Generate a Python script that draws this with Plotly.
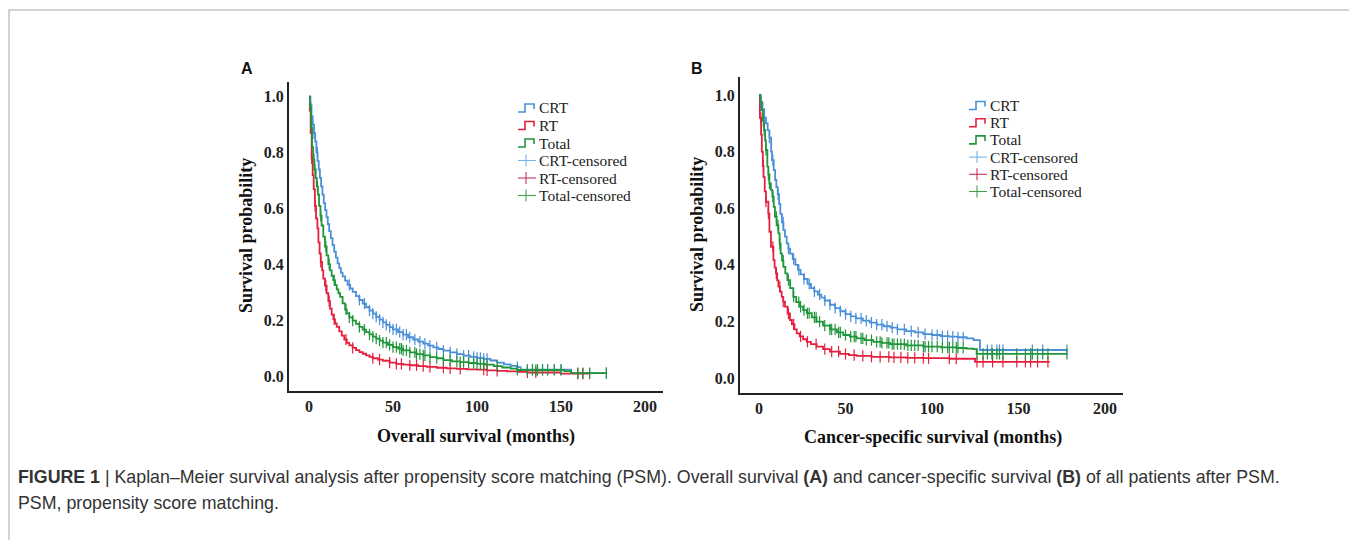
import numpy as np
import plotly.graph_objects as go

W, H = 1357, 540
OFF = 8  # the page body adds an 8px margin; positions below are in window pixels

# ---------------- Panel A: overall survival ----------------
os_crt_t = [0, 0.8, 1.5, 2.2, 3.0, 3.7, 4.4, 5.1, 5.8, 6.5, 7.2, 8.0, 8.8, 9.6, 10.4, 11.2, 12.0, 13.0, 14.0, 15.0,
            16.0, 17.0, 18.0, 19.0, 20.0, 21.5, 23.0, 24.5, 26.0, 28.0, 30.0, 32.0, 34.0, 36.0, 38.0, 40.0, 42.0,
            44.0, 46.0, 48.0, 50.0, 53.0, 56.0, 59.0, 62.0, 65.0, 68.0, 71.0, 74.0, 77.0, 80.0, 84.0, 88.0, 92.0,
            96.0, 100.0, 104.0, 108.0, 112.0, 116.0, 120.0, 124.0, 126.0, 156.0, 177.0]
os_crt_s = [1.0, 0.97, 0.93, 0.90, 0.87, 0.84, 0.80, 0.77, 0.74, 0.71, 0.68, 0.65, 0.62, 0.595, 0.57, 0.545, 0.52,
            0.495, 0.47, 0.447, 0.425, 0.405, 0.388, 0.372, 0.358, 0.343, 0.328, 0.315, 0.303, 0.288, 0.274, 0.261,
            0.248, 0.236, 0.225, 0.214, 0.204, 0.194, 0.185, 0.177, 0.169, 0.159, 0.150, 0.141, 0.133, 0.125, 0.118,
            0.111, 0.105, 0.099, 0.093, 0.087, 0.081, 0.075, 0.071, 0.067, 0.064, 0.058, 0.050, 0.044, 0.039, 0.034,
            0.025, 0.013, 0.013]

os_rt_t = [0, 0.5, 1.0, 1.6, 2.2, 2.8, 3.5, 4.2, 5.0, 5.6, 6.3, 7.0, 7.8, 8.5, 9.5, 10.5, 11.5, 12.5, 13.5, 14.5,
           15.5, 16.5, 18.0, 19.5, 21.0, 22.5, 24.0, 26.0, 28.0, 30.0, 32.0, 34.0, 36.0, 38.0, 41.0, 44.0, 48.0,
           52.0, 56.0, 60.0, 65.0, 70.0, 76.0, 82.0, 88.0, 94.0, 100.0, 106.0, 112.0, 118.0, 124.0, 130.0, 150.0,
           167.0]
os_rt_s = [1.0, 0.95, 0.87, 0.78, 0.72, 0.67, 0.61, 0.565, 0.53, 0.48, 0.44, 0.41, 0.38, 0.35, 0.325, 0.298, 0.27,
           0.243, 0.222, 0.205, 0.19, 0.178, 0.162, 0.147, 0.133, 0.121, 0.112, 0.103, 0.095, 0.088, 0.082, 0.076,
           0.071, 0.066, 0.061, 0.057, 0.050, 0.046, 0.043, 0.041, 0.038, 0.035, 0.032, 0.030, 0.028, 0.026, 0.025,
           0.023, 0.021, 0.019, 0.017, 0.015, 0.011, 0.011]

os_tot_t = [0, 0.6, 1.2, 1.8, 2.5, 3.2, 4.0, 4.6, 5.3, 6.0, 6.8, 7.5, 8.5, 9.5, 10.5, 11.5, 12.5, 13.5, 14.5, 15.5,
            16.5, 17.5, 18.5, 20.0, 21.5, 22.5, 24.0, 26.0, 28.0, 30.0, 32.0, 34.0, 36.0, 38.0, 40.0, 42.0, 44.0,
            47.0, 50.0, 53.0, 56.0, 60.0, 64.0, 68.0, 72.0, 76.0, 80.0, 85.0, 90.0, 95.0, 100.0, 105.0, 110.0,
            115.0, 120.0, 124.0, 152.0, 156.0, 177.0]
os_tot_s = [1.0, 0.96, 0.89, 0.82, 0.775, 0.74, 0.71, 0.68, 0.65, 0.61, 0.575, 0.54, 0.50, 0.465, 0.433, 0.402,
            0.38, 0.36, 0.345, 0.327, 0.312, 0.298, 0.285, 0.262, 0.24, 0.226, 0.212, 0.2, 0.189, 0.178, 0.168,
            0.159, 0.151, 0.143, 0.136, 0.129, 0.122, 0.114, 0.106, 0.100, 0.094, 0.087, 0.081, 0.076, 0.070,
            0.066, 0.059, 0.055, 0.052, 0.049, 0.046, 0.043, 0.038, 0.033, 0.029, 0.024, 0.020, 0.013, 0.013]

os_crt_cens = [1, 3, 5, 24, 30, 33, 36, 38, 40, 42, 44, 46, 48, 50, 52, 54, 56, 58, 60, 63, 66, 69, 72, 76, 80, 84,
               88, 92, 95, 98, 100, 102, 104, 106, 124, 130, 133, 136, 139, 142, 146, 150, 177]
os_rt_cens = [1.6, 3.6, 7, 10, 12, 15, 22, 26, 38, 42, 48, 52, 55, 60, 64, 68, 72, 80, 84, 90, 104, 106, 112, 130,
              135, 160, 163, 167]

# ---------------- Panel B: cancer-specific survival ----------------
css_crt_t = [0, 1.0, 2.0, 3.0, 4.0, 5.0, 6.0, 7.0, 7.5, 8.5, 9.3, 10.0, 10.8, 11.6, 12.3, 13.2, 14.1, 15.0, 16.0,
             17.0, 18.0, 19.5, 21.0, 22.5, 24.0, 26.0, 28.0, 30.0, 32.0, 34.0, 36.0, 38.0, 41.0, 44.0, 47.0, 50.0,
             53.0, 56.0, 60.0, 64.0, 68.0, 72.0, 76.0, 80.0, 85.0, 90.0, 95.0, 100.0, 105.0, 110.0, 115.0, 120.0,
             124.0, 127.7, 178.0]
css_crt_s = [1.0, 0.975, 0.95, 0.92, 0.90, 0.875, 0.85, 0.80, 0.77, 0.735, 0.70, 0.675, 0.65, 0.615, 0.58, 0.55,
             0.523, 0.50, 0.476, 0.457, 0.44, 0.42, 0.40, 0.382, 0.366, 0.35, 0.333, 0.318, 0.306, 0.295, 0.284,
             0.274, 0.259, 0.247, 0.236, 0.226, 0.218, 0.211, 0.203, 0.196, 0.189, 0.183, 0.178, 0.172, 0.166,
             0.161, 0.155, 0.152, 0.148, 0.146, 0.144, 0.140, 0.134, 0.099, 0.099]

css_rt_t = [0, 0.5, 1.2, 1.6, 2.2, 2.6, 3.3, 4.0, 5.4, 6.0, 6.9, 8.3, 9.0, 9.8, 10.5, 11.2, 12.1, 13.1, 14.0, 15.0,
            16.5, 17.9, 19.0, 20.5, 21.8, 23.5, 25.5, 27.6, 30.0, 33.3, 37.0, 41.0, 46.8, 52.0, 56.5, 65.0, 75.7,
            85.0, 95.0, 110.0, 124.9, 168.0]
css_rt_s = [1.0, 0.92, 0.86, 0.80, 0.75, 0.71, 0.66, 0.623, 0.582, 0.517, 0.464, 0.417, 0.39, 0.37, 0.345, 0.323,
            0.305, 0.287, 0.27, 0.252, 0.228, 0.205, 0.19, 0.172, 0.158, 0.147, 0.137, 0.128, 0.12, 0.111, 0.102,
            0.093, 0.085, 0.081, 0.078, 0.075, 0.073, 0.071, 0.070, 0.068, 0.057, 0.057]

css_tot_t = [0, 0.8, 1.5, 2.2, 2.9, 3.5, 4.0, 4.8, 5.4, 6.0, 6.8, 7.7, 8.5, 9.2, 10.2, 11.2, 11.9, 12.5, 13.3, 14.1,
             15.2, 16.4, 18.0, 19.8, 21.5, 23.7, 25.5, 27.6, 30.5, 33.3, 37.0, 41.0, 45.0, 48.7, 52.5, 56.5, 61.0,
             66.1, 71.0, 75.7, 85.0, 95.0, 105.0, 114.3, 120.0, 123.9, 125.8, 178.0]
css_tot_s = [1.0, 0.975, 0.947, 0.91, 0.876, 0.84, 0.806, 0.747, 0.72, 0.688, 0.665, 0.641, 0.605, 0.57, 0.54,
             0.511, 0.475, 0.44, 0.415, 0.393, 0.37, 0.346, 0.318, 0.287, 0.268, 0.252, 0.24, 0.229, 0.214, 0.199,
             0.185, 0.172, 0.161, 0.152, 0.146, 0.14, 0.134, 0.128, 0.124, 0.12, 0.115, 0.111, 0.108, 0.106, 0.104,
             0.102, 0.085, 0.085]

css_crt_cens = [1, 3, 6, 8, 11, 14, 17, 20, 23, 26, 29, 32, 35, 38, 41, 44, 47, 50, 53, 56, 59, 62, 65, 68, 71, 74,
                77, 80, 84, 88, 92, 96, 100, 103, 106, 109, 112, 115, 118, 132, 134.6, 137.5, 139, 141, 158, 164, 178]
css_rt_cens = [1, 2.5, 4, 5.4, 8, 10, 12, 14, 17, 20, 24, 28, 33, 38, 42, 46, 50, 55, 60, 65, 70, 75, 78, 82, 86,
               90, 95, 98, 110, 114, 126, 129.5, 135, 141, 149, 154, 157, 161, 167]

x_ticks = [0, 50, 100, 150, 200]
y_ticks = [0.0, 0.2, 0.4, 0.6, 0.8, 1.0]
series_names = ["CRT", "RT", "Total"]
legend_labels = ["CRT", "RT", "Total", "CRT-censored", "RT-censored", "Total-censored"]

COL = {"CRT": "#4a8fd8", "RT": "#e4203e", "Total": "#1f963a"}
CENS_COL = {"CRT": "#7ab3e8", "RT": "#c8305f", "Total": "#3fa052"}

SERIF = "Liberation Serif, Times New Roman, serif"
SANS = "Liberation Sans, Arial, sans-serif"


def px2x(p):
    return (p - OFF) / W


def py2y(p):
    return 1 - (p - OFF) / H


def step_at(times, surv, t):
    times = np.asarray(times)
    surv = np.asarray(surv)
    idx = np.searchsorted(times, np.asarray(t), side="right") - 1
    return surv[np.clip(idx, 0, len(surv) - 1)]


fig = go.Figure()

panels = [
    dict(xa="x", ya="y",
         curves={"CRT": (os_crt_t, os_crt_s), "RT": (os_rt_t, os_rt_s), "Total": (os_tot_t, os_tot_s)},
         cens={"CRT": os_crt_cens, "RT": os_rt_cens}),
    dict(xa="x2", ya="y2",
         curves={"CRT": (css_crt_t, css_crt_s), "RT": (css_rt_t, css_rt_s), "Total": (css_tot_t, css_tot_s)},
         cens={"CRT": css_crt_cens, "RT": css_rt_cens}),
]

for p in panels:
    for name in series_names:
        t, s = p["curves"][name]
        fig.add_trace(go.Scatter(x=t, y=s, mode="lines", line=dict(shape="hv", color=COL[name], width=1.8),
                                 xaxis=p["xa"], yaxis=p["ya"], showlegend=False, hoverinfo="skip"))
    cens_total = sorted(set(p["cens"]["CRT"]) | set(p["cens"]["RT"]))
    cens_lists = {"CRT": p["cens"]["CRT"], "RT": p["cens"]["RT"], "Total": cens_total}
    for name in series_names:
        t, s = p["curves"][name]
        ct = cens_lists[name]
        cy = step_at(t, s, ct)
        fig.add_trace(go.Scatter(x=ct, y=cy, mode="markers",
                                 marker=dict(symbol="line-ns", size=8, line=dict(width=1.2, color=COL[name])),
                                 xaxis=p["xa"], yaxis=p["ya"], showlegend=False, hoverinfo="skip"))

axis_common = dict(showgrid=False, zeroline=False, showline=True, linecolor="#222", linewidth=2,
                   ticks="", ticklen=0, tickfont=dict(family=SERIF, size=16, color="#222", weight="bold"))

fig.update_layout(
    width=W, height=H, margin=dict(l=0, r=0, t=0, b=0),
    paper_bgcolor="white", plot_bgcolor="white", showlegend=False,
    xaxis=dict(domain=[px2x(289), px2x(663)], range=[-11.9, 210.7], tickvals=x_ticks, anchor="y",
               ticklabelstandoff=0, **axis_common),
    yaxis=dict(domain=[py2y(391), py2y(82)], range=[-0.051, 1.0525], tickvals=y_ticks, tickformat=".1f",
               anchor="x", ticklabelstandoff=0, **axis_common),
    xaxis2=dict(domain=[px2x(740), px2x(1123)], range=[-11.0, 210.4], tickvals=x_ticks, anchor="y2",
                ticklabelstandoff=0, **axis_common),
    yaxis2=dict(domain=[py2y(393), py2y(77)], range=[-0.053, 1.064], tickvals=y_ticks, tickformat=".1f",
                anchor="x2", ticklabelstandoff=0, **axis_common),
)

shapes = []
annotations = []

# outer frame
shapes.append(dict(type="rect", xref="paper", yref="paper", x0=px2x(9), x1=px2x(1354), y0=py2y(10), y1=py2y(600),
                   line=dict(color="#c4c4c4", width=1.5), fillcolor="rgba(0,0,0,0)", layer="below"))

# panel letters
for txt, x, y in [("A", 247, 68), ("B", 697, 68)]:
    annotations.append(dict(text=f"<b>{txt}</b>", x=px2x(x), y=py2y(y), xref="paper", yref="paper",
                            showarrow=False, xanchor="center", yanchor="middle",
                            font=dict(family=SANS, size=16, color="#111")))

# axis titles
for txt, x, y, ang in [("Survival probability", 246, 236, -90), ("Survival probability", 697, 235, -90),
                       ("Overall survival (months)", 476, 436, 0),
                       ("Cancer-specific survival (months)", 933, 437, 0)]:
    annotations.append(dict(text=f"<b>{txt}</b>", x=px2x(x), y=py2y(y), xref="paper", yref="paper",
                            showarrow=False, xanchor="center", yanchor="middle", textangle=ang,
                            font=dict(family=SERIF, size=18, color="#111")))

# custom legends (step icons and censor icons)
legend_pos = [(518, 108.0, 17.5), (969, 105.5, 17.2)]
for lx, ly0, dy in legend_pos:
    for i, lab in enumerate(legend_labels):
        yc = ly0 + i * dy
        base = lab.split("-")[0]
        if i < 3:
            pts = [(lx, yc + 4), (lx + 7, yc + 4), (lx + 7, yc - 4), (lx + 16, yc - 4), (lx + 16, yc + 1)]
            path = "M " + " L ".join(f"{px2x(a)},{py2y(b)}" for a, b in pts)
            shapes.append(dict(type="path", path=path, xref="paper", yref="paper",
                               line=dict(color=COL[base], width=1.6)))
        else:
            c = CENS_COL[base]
            shapes.append(dict(type="line", xref="paper", yref="paper", x0=px2x(lx), x1=px2x(lx + 18),
                               y0=py2y(yc), y1=py2y(yc), line=dict(color=c, width=1.1)))
            shapes.append(dict(type="line", xref="paper", yref="paper", x0=px2x(lx + 8), x1=px2x(lx + 8),
                               y0=py2y(yc - 6), y1=py2y(yc + 6), line=dict(color=c, width=1.1)))
        annotations.append(dict(text=lab, x=px2x(lx + 19), y=py2y(yc), xref="paper", yref="paper",
                                showarrow=False, xanchor="left", yanchor="middle",
                                font=dict(family=SERIF, size=15.5, color="#222")))

# caption
cap1 = ("<b>FIGURE 1</b> | Kaplan–Meier survival analysis after propensity score matching (PSM). "
        "Overall survival <b>(A)</b> and cancer-specific survival <b>(B)</b> of all patients after PSM.")
cap2 = "PSM, propensity score matching."
for txt, y in [(cap1, 477), (cap2, 503)]:
    annotations.append(dict(text=txt, x=px2x(16), y=py2y(y), xref="paper", yref="paper", showarrow=False,
                            xanchor="left", yanchor="middle", font=dict(family=SANS, size=17.8, color="#333")))

fig.update_layout(shapes=shapes, annotations=annotations)
fig.write_html("out.html")
